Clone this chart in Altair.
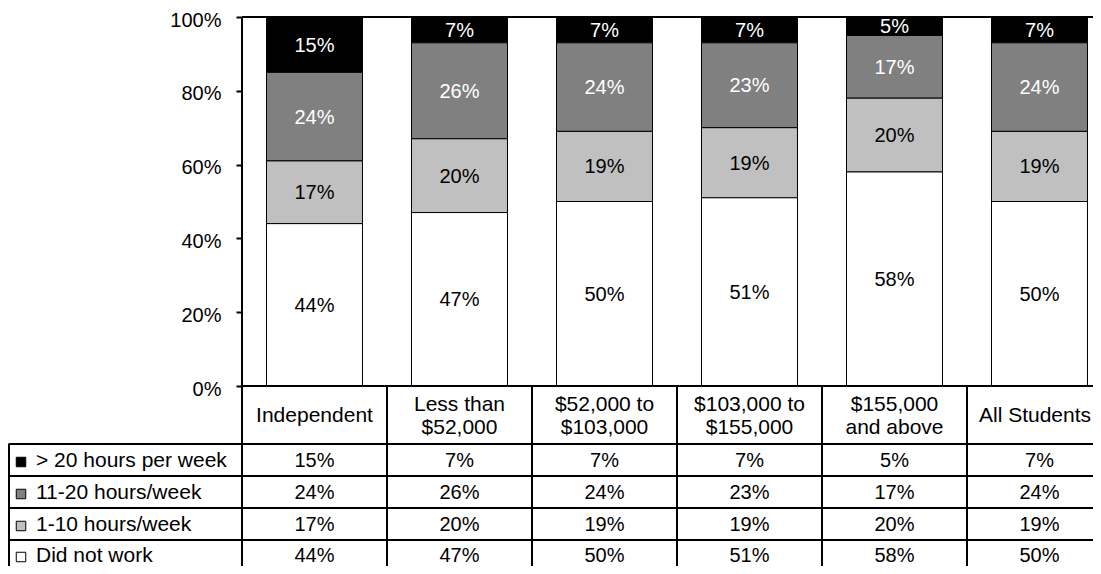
import altair as alt
import pandas as pd

# ---- data ----
categories = ["Independent", "Less than\n$52,000", "$52,000 to\n$103,000",
              "$103,000 to\n$155,000", "$155,000\nand above", "All Students"]
series = ["> 20 hours per week", "11-20 hours/week", "1-10 hours/week", "Did not work"]
over20 = [15, 7, 7, 7, 5, 7]
h11_20 = [24, 26, 24, 23, 17, 24]
h1_10 = [17, 20, 19, 19, 20, 19]
didnot = [44, 47, 50, 51, 58, 50]
y_ticks = [0, 20, 40, 60, 80, 100]
fills = ["#000000", "#808080", "#C0C0C0", "#FFFFFF"]

values = [over20, h11_20, h1_10, didnot]

# ---- layout helpers (pixel -> scale units) ----
AX_PX, COL_W = 242.0, 145.0
Y0_PX, PX_PER = 386.0, 3.69
def cx(px):
    return (px - AX_PX) / COL_W
def vy(py):
    return (Y0_PX - py) / PX_PER

X_DOM = [cx(8), cx(1093)]
Y_DOM = [vy(566), 100]
HALF = 0.331
FONT = "Liberation Sans"
FS = 20
FS_W = 21
LH = 23

row_lines_px = [444, 476, 508, 540]
row_centers_px = [460, 492, 524, 555]
header_px = 415

rows = []
for si, s in enumerate(series):
    for ci, c in enumerate(categories):
        rows.append({"cat": c, "cidx": ci, "series": s, "sidx": si,
                     "order": 3 - si, "value": values[si][ci],
                     "label": f"{values[si][ci]}%",
                     "row_y": vy(row_centers_px[si])})
df = pd.DataFrame(rows)

xs = alt.Scale(domain=X_DOM, nice=False, zero=False)
ys = alt.Scale(domain=Y_DOM, nice=False, zero=False)
yaxis = alt.Axis(
    values=y_ticks, labelExpr="datum.value + '%'", offset=-234,
    domain=False, grid=False, tickSize=6, tickWidth=2, tickColor="black",
    labelFont=FONT, labelFontSize=FS, labelColor="black", labelPadding=15,
    labelOffset=3, title=None)

base = alt.Chart(df).transform_stack(
    stack="value", groupby=["cat"], as_=["y0", "y1"],
    sort=[alt.SortField("order", order="ascending")]
).transform_calculate(
    xl=f"datum.cidx + 0.5 - {HALF}", xr=f"datum.cidx + 0.5 + {HALF}",
    xm="datum.cidx + 0.5", ym="(datum.y0 + datum.y1) / 2"
)

bars = base.mark_rect(stroke="black", strokeWidth=1).encode(
    x=alt.X("xl:Q", scale=xs, axis=None),
    x2="xr:Q",
    y=alt.Y("y0:Q", scale=ys, axis=yaxis),
    y2="y1:Q",
    fill=alt.Fill("series:N", scale=alt.Scale(domain=series, range=fills), legend=None),
)

bar_text = base.mark_text(font=FONT, fontSize=FS, baseline="middle", align="center", dy=1).encode(
    x=alt.X("xm:Q", scale=xs, axis=None),
    y=alt.Y("ym:Q", scale=ys, axis=yaxis),
    text="label:N",
    color=alt.condition("datum.sidx < 2", alt.value("white"), alt.value("black")),
)

table_text = alt.Chart(df).transform_calculate(xm="datum.cidx + 0.5").mark_text(
    font=FONT, fontSize=FS, baseline="middle", align="center", color="black", dy=1
).encode(
    x=alt.X("xm:Q", scale=xs, axis=None),
    y=alt.Y("row_y:Q", scale=ys, axis=yaxis),
    text="label:N",
)

hdr_y = [vy(header_px - (LH / 2 if "\n" in c else 0)) for c in categories]
# the last column is cut by the page edge; keep its label inside the visible area
hdr_x = [i + 0.5 for i in range(len(categories) - 1)] + [cx(1035)]
hdr = pd.DataFrame({"cat": categories, "xm": hdr_x, "ym": hdr_y})
header_text = alt.Chart(hdr).mark_text(
    font=FONT, fontSize=FS_W, baseline="middle", color="black", align="center",
    lineBreak="\n", lineHeight=LH, dy=1
).encode(
    x=alt.X("xm:Q", scale=xs, axis=None),
    y=alt.Y("ym:Q", scale=ys, axis=yaxis),
    text="cat:N",
)

leg = pd.DataFrame({"series": series,
                    "xs": [cx(21)] * 4, "xt": [cx(36)] * 4,
                    "ys": [vy(p + 2) for p in row_centers_px],
                    "yt": [vy(p) for p in row_centers_px]})
swatches = alt.Chart(leg).mark_square(size=90, stroke="black", strokeWidth=1, opacity=1).encode(
    x=alt.X("xs:Q", scale=xs, axis=None),
    y=alt.Y("ys:Q", scale=ys, axis=yaxis),
    fill=alt.Fill("series:N", scale=alt.Scale(domain=series, range=fills), legend=None),
)
leg_text = alt.Chart(leg).mark_text(
    font=FONT, fontSize=FS_W, baseline="middle", align="left", color="black", dy=1
).encode(
    x=alt.X("xt:Q", scale=xs, axis=None),
    y=alt.Y("yt:Q", scale=ys, axis=yaxis),
    text="series:N",
)

# grid lines of the plot frame and data table
lines = []
lines.append({"x": 0, "x2": X_DOM[1], "y": 100, "y2": 100, "w": 2})
lines.append({"x": 0, "x2": 0, "y": 100, "y2": Y_DOM[0], "w": 2})
lines.append({"x": 0, "x2": X_DOM[1], "y": 0, "y2": 0, "w": 2})
for p in row_lines_px:
    lines.append({"x": cx(8.5), "x2": X_DOM[1], "y": vy(p), "y2": vy(p), "w": 2})
for c in range(1, 6):
    lines.append({"x": c, "x2": c, "y": 0, "y2": Y_DOM[0], "w": 2})
lines.append({"x": cx(9), "x2": cx(9), "y": vy(444), "y2": Y_DOM[0], "w": 2})
ldf = pd.DataFrame(lines)
rules = alt.Chart(ldf).mark_rule(color="black").encode(
    x=alt.X("x:Q", scale=xs, axis=None), x2="x2:Q",
    y=alt.Y("y:Q", scale=ys, axis=yaxis), y2="y2:Q",
    strokeWidth=alt.StrokeWidth("w:Q", scale=None, legend=None),
)

chart = alt.layer(bars, bar_text, table_text, header_text, swatches, leg_text, rules).properties(
    width=1085, height=549,
    autosize=alt.AutoSizeParams(type="none"),
    padding={"left": 0, "top": 9, "right": 0, "bottom": 0},
).configure_view(stroke=None).resolve_scale(fill="shared")

chart.save("out.html", embed_options={"renderer": "svg", "actions": False})
